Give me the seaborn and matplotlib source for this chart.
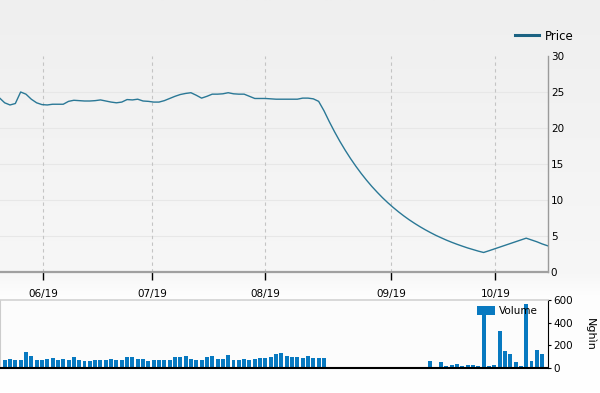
import numpy as np
import pandas as pd
import matplotlib
matplotlib.use("Agg")
import matplotlib.pyplot as plt
import seaborn as sns
from matplotlib.colors import LinearSegmentedColormap

# ---------------- data ----------------
# price series, one value per trading session, starting one session before the first volume bar
price = [24.2, 23.5, 23.2, 23.4, 25.0, 24.7, 24.0, 23.5, 23.25, 23.2, 23.3,
         23.3, 23.3, 23.7, 23.85, 23.8, 23.75, 23.75, 23.8, 23.9, 23.75,
         23.6, 23.5, 23.6, 23.95, 23.9, 24.0, 23.75, 23.7, 23.6, 23.6,
         23.8, 24.1, 24.4, 24.65, 24.8, 24.9, 24.55, 24.15, 24.4, 24.7,
         24.7, 24.75, 24.9, 24.75, 24.7, 24.7, 24.4, 24.1, 24.1, 24.1,
         24.05, 24.0, 24.0, 24.0, 24.0, 24.0, 24.15, 24.15, 24.05, 23.7,
         22.4, 20.88, 19.46, 18.13, 16.9, 15.75, 14.68, 13.68, 12.75, 11.88,
         11.08, 10.32, 9.62, 8.97, 8.36, 7.79, 7.26, 6.77, 6.31, 5.88,
         5.48, 5.10, 4.76, 4.43, 4.13, 3.85, 3.59, 3.34, 3.12, 2.90,
         2.71, 2.95, 3.2, 3.45, 3.7, 3.95, 4.2, 4.45, 4.7, 4.45,
         4.2, 3.9, 3.65]
price_first_session = -1

# volume (thousand shares), one bar per session 0..101
volume = [73, 82, 73, 73, 144, 109, 73, 73, 82, 91,
          73, 82, 73, 100, 73, 65, 65, 73, 73, 73,
          82, 73, 73, 100, 100, 82, 82, 65, 73, 73,
          73, 73, 100, 100, 109, 82, 73, 73, 100, 109,
          82, 82, 118, 73, 73, 82, 73, 82, 91, 91,
          100, 127, 136, 109, 100, 100, 91, 109, 91, 91,
          91, 8, 8, 8, 8, 8, 8, 8, 8, 8,
          8, 8, 8, 8, 8, 10, 10, 10, 10, 10,
          61, 12, 53, 18, 26, 35, 18, 26, 26, 18,
          500, 18, 26, 328, 149, 123, 53, 18, 562, 61,
          158, 123]

month_labels = ["06/19", "07/19", "08/19", "09/19", "10/19"]
month_tick_pos = [7.2, 27.7, 48.9, 72.6, 92.2]

price_ticks = [0, 5, 10, 15, 20, 25, 30]
volume_ticks = [0, 200, 400, 600]

# ---------------- frames ----------------
df_price = pd.DataFrame({"session": np.arange(len(price)) + price_first_session,
                         "Price": price})
df_vol = pd.DataFrame({"session": np.arange(len(volume)), "Volume": volume})

# ---------------- figure ----------------
W, H = 600, 393
fig = plt.figure(figsize=(W / 100, H / 100), dpi=100)
plt.rcParams["font.family"] = ["DejaVu Sans"]

# background gradient
bg = fig.add_axes([0, 0, 1, 1], zorder=-10)
cmap = LinearSegmentedColormap.from_list("bg", [(0, "#ffffff"), (0.25, "#fdfdfd"),
                                                (0.3, "#f7f7f7"), (1.0, "#efefef")])
grad = np.linspace(0, 1, 256).reshape(-1, 1)
bg.imshow(grad, aspect="auto", cmap=cmap, origin="lower", extent=[0, 1, 0, 1])
bg.set_axis_off()

XL = (-0.88, 102.1)
LINE_C = "#2a7896"
BAR_C = "#0879c0"
FS = 7.5

# ---------------- price panel ----------------
axp = fig.add_axes([0, 1 - 272 / H, 548 / W, (272 - 56) / H])
axp.set_facecolor("none")
sns.lineplot(data=df_price, x="session", y="Price", ax=axp, color=LINE_C,
             linewidth=1.0, label="Price")
axp.set_xlim(*XL)
axp.set_ylim(0, 30)
axp.set_xticks(month_tick_pos)
axp.set_xticklabels(month_labels, fontsize=FS)
axp.set_yticks(price_ticks)
axp.yaxis.tick_right()
axp.tick_params(axis="y", length=0, pad=2, labelsize=FS)
axp.tick_params(axis="x", length=6, width=1, color="black", pad=6, labelsize=FS)
axp.set_xlabel("")
axp.set_ylabel("")
for y in price_ticks[1:-1]:
    axp.axhline(y, color="#e7e7e7", lw=0.8, zorder=0)
for x in month_tick_pos:
    axp.axvline(x, color="#c4c4c4", lw=0.8, ls=(0, (3, 3)), zorder=0)
for s in ["top", "left"]:
    axp.spines[s].set_visible(False)
axp.spines["right"].set_color("#9a9a9a")
axp.spines["right"].set_linewidth(1.0)
axp.spines["bottom"].set_color("#a0a0a0")
axp.spines["bottom"].set_linewidth(1.6)

leg = axp.legend(loc="center right", bbox_to_anchor=(578 / W, 1 - 36 / H),
                 bbox_transform=fig.transFigure, frameon=False, fontsize=8.5,
                 handlelength=2.0, handletextpad=0.5, borderaxespad=0)
for l in leg.get_lines():
    l.set_linewidth(2.2)
    l.set_color("#1b6282")

# ---------------- volume panel ----------------
axv = fig.add_axes([0, 1 - 368 / H, 548 / W, (368 - 300) / H])
axv.set_facecolor("#fcfcfc")
sns.barplot(data=df_vol, x="session", y="Volume", ax=axv, color=BAR_C,
            saturation=1, width=0.75, label="Volume")
axv.set_xlim(*XL)
axv.set_ylim(0, 600)
axv.set_xticks([])
axv.set_xlabel("")
axv.set_yticks(volume_ticks)
axv.yaxis.tick_right()
axv.yaxis.set_label_position("right")
axv.tick_params(axis="y", length=2, pad=2, labelsize=FS)
axv.set_ylabel("Nghìn", rotation=270, fontsize=8, labelpad=16)
axv.spines["top"].set_color("#d2d2d2")
axv.spines["top"].set_linewidth(1.2)
axv.spines["left"].set_color("#cccccc")
axv.spines["right"].set_color("black")
axv.spines["bottom"].set_color("black")
axv.spines["bottom"].set_linewidth(1.5)

legv = axv.legend(loc="upper left", bbox_to_anchor=(477 / W, 1 - 306 / H),
                  bbox_transform=fig.transFigure, frameon=False, fontsize=7.5,
                  handlelength=1.7, handleheight=0.9, handletextpad=0.4,
                  borderaxespad=0, borderpad=0)

fig.savefig("out.png", dpi=100)
